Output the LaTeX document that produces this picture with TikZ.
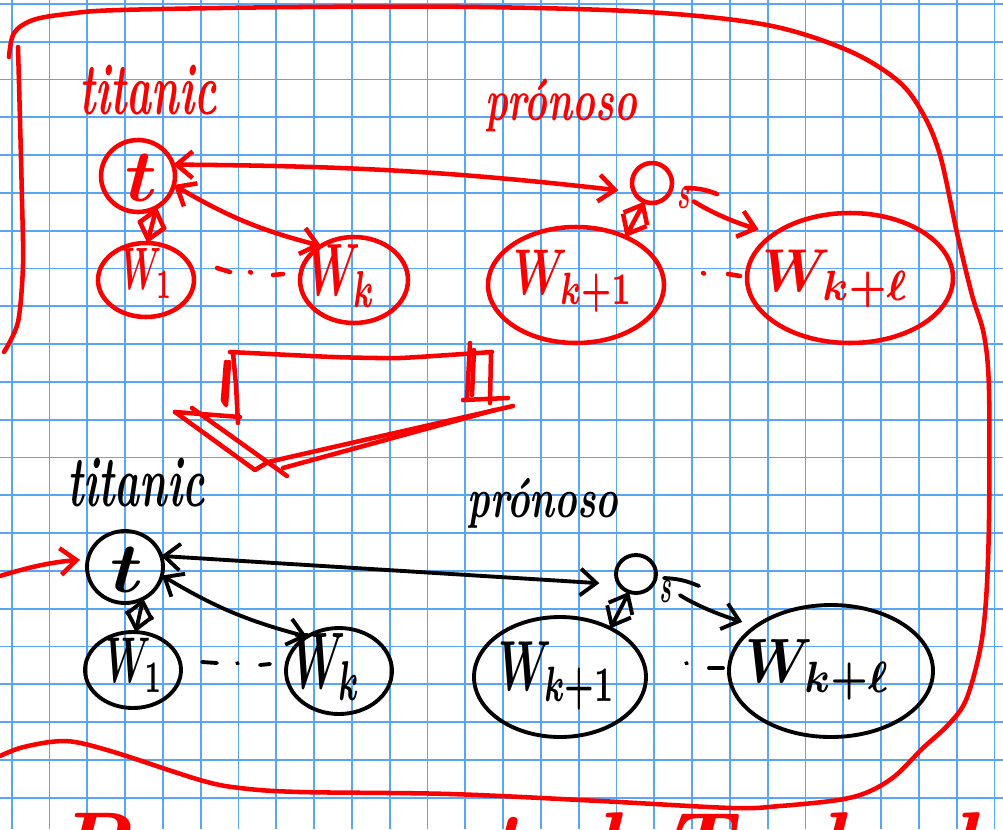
\documentclass[tikz,border=0pt]{standalone}
\usepackage{fontspec}
\usetikzlibrary{shapes.geometric, arrows.meta}
\definecolor{gridblue}{RGB}{88,166,246}
\definecolor{inkred}{RGB}{250,0,0}
\newcommand{\penword}[1]{{\bfseries\itshape\addfontfeature{FakeBold=3}#1}}
\tikzset{
  gridrule/.style={draw=gridblue, line width=1.4pt},
  redpen/.style={draw=inkred, line width=3.4pt, line cap=round, line join=round},
  blackpen/.style={draw=black, line width=2.9pt, line cap=round, line join=round},
  var/.style={ellipse, inner sep=0pt, outer sep=0pt},
  lab/.style={inner sep=0pt, outer sep=0pt},
  barb/.style={arrows={-Straight Barb[length=12pt, width=20pt]}},
  bothbarb/.style={arrows={Straight Barb[length=12pt, width=20pt]-Straight Barb[length=12pt, width=20pt]}},
}
\begin{document}
\begin{tikzpicture}[x=0.75pt, y=-0.75pt]
\useasboundingbox (0,0) rectangle (1003,829);
\fill[white] (0,0) rectangle (1003,829);

% squared paper
\foreach \k in {0,...,26} \draw[gridrule] ({11.7+37.8*\k},0) -- ({11.7+37.8*\k},829);
\foreach \k in {0,...,21} \draw[gridrule] (0,{3.9+37.8*\k}) -- (1003,{3.9+37.8*\k});

% red frame around both models
\draw[redpen] plot[smooth, tension=0.55] coordinates {(9,57) (14,33) (33,20) (67,14) (120,10) (300,7) (480,7) (647,12) (767,25) (847,50) (897,80) (922,112) (940,155) (957,233) (972,295) (984,335) (989,390) (989,520) (986,600) (980,650) (966,700) (948,725) (923,748) (895,776) (868,792) (838,800) (780,806) (732,808) (600,801) (450,794) (300,792) (240,788) (200,780) (117,753) (75,742) (50,742) (20,748) (0,756)};
\draw[redpen] plot[smooth] coordinates {(18,47) (20,120) (22,200) (23,265) (18,322) (4,352)};

% ---------------- upper (red) model ----------------
\node[lab, inkred] (titU) at (148,90) {\resizebox*{102.75pt}{37.5pt}{\penword{titanic}}};
\node[lab, inkred] (parU) at (561,106) {\resizebox*{114pt}{39.75pt}{\penword{prónoso}}};

\node[var, redpen, minimum width=55.5pt, minimum height=54pt] (tU) at (138,176) {};
\node[var, redpen, minimum width=72pt, minimum height=55.5pt] (W1U) at (146,280) {};
\node[var, redpen, minimum width=81pt, minimum height=64.5pt] (WkU) at (354,280) {};
\node[var, redpen, minimum width=132pt, minimum height=87pt] (Wk1U) at (576,285) {};
\node[var, redpen, minimum width=154.5pt, minimum height=97.5pt] (WklU) at (850,278) {};
\node[var, redpen, minimum width=30pt, minimum height=30pt] (sU) at (652,183) {};

\node[lab, inkred] (tUl) at (141,178) {\resizebox*{24pt}{35.25pt}{\boldmath$t$}};
\node[lab, inkred] (W1Ul) at (147,273) {\resizebox*{38.25pt}{37.5pt}{\boldmath$W_{1}$}};
\node[lab, inkred] (WkUl) at (342,276) {\resizebox*{51.75pt}{46.5pt}{\boldmath$W_{k}$}};
\node[lab, inkred] (Wk1Ul) at (573,281) {\resizebox*{90pt}{46.5pt}{\boldmath$W_{k+1}$}};
\node[lab, inkred] (WklUl) at (836,279) {\resizebox*{110.25pt}{43.5pt}{\boldmath$W_{k+\ell}$}};
\node[lab, inkred] (sUl) at (684,198) {\resizebox*{9.75pt}{15.75pt}{\boldmath$s$}};

\draw[redpen, bothbarb, shorten >=12pt] (tU.18) to[bend left=3] (sU.207);
\draw[redpen, bothbarb] (tU.346) to[bend right=8] (WkU.134);
\draw[redpen, bothbarb] (tU.301) -- (W1U.88);
\draw[redpen, bothbarb] (sU.248) -- (Wk1U.44);
\draw[redpen, barb, shorten <=20pt, shorten >=12pt] (sU.348) to[bend right=8] (WklU.150);
\draw[redpen] (686,188) to[bend left=10] (717,194);

% ellipsis marks
\draw[redpen] (217,268) -- (230,272);
\draw[redpen] (250,272) -- (251,272.5);
\draw[redpen] (273,275) -- (283,274);
\draw[redpen] (703,273) -- (704,273.5);
\draw[redpen] (728,274) -- (740,276);

% ---------------- turning arrow ----------------
\draw[redpen] plot[smooth, tension=0.3] coordinates {(230,352) (333,357) (400,358) (492,352)};
\draw[redpen] (233,353) -- (236,385) -- (238,423);
\draw[redpen] (226,362) -- (223,400) -- (226,405) -- (229,362);
\draw[redpen] (175,412) -- (240,417);
\draw[redpen] (470,343) -- (467,400);
\draw[redpen] (474,350) -- (472,395);
\draw[redpen] (491,352) -- (490,403);
\draw[redpen] (463,400) -- (508,398);
\draw[redpen] (175,412) -- (255,470) -- (268,462) -- (513,406);
\draw[redpen] (192,408) -- (287,476);
\draw[redpen] (283,468) -- (495,410);

% ---------------- lower (black) model ----------------
\node[lab] (titL) at (136,483) {\resizebox*{102.75pt}{36.75pt}{\penword{titanic}}};
\node[lab] (parL) at (543,503) {\resizebox*{113.25pt}{37.5pt}{\penword{prónoso}}};

\node[var, blackpen, minimum width=57pt, minimum height=54pt] (tL) at (125,567) {};
\node[var, blackpen, minimum width=72pt, minimum height=57pt] (W1L) at (133,670) {};
\node[var, blackpen, minimum width=79.5pt, minimum height=64.5pt] (WkL) at (339,671) {};
\node[var, blackpen, minimum width=129pt, minimum height=90pt] (Wk1L) at (560,677) {};
\node[var, blackpen, minimum width=153pt, minimum height=99pt] (WklL) at (831,671) {};
\node[var, blackpen, minimum width=30pt, minimum height=28.5pt] (sL) at (636,574) {};

\node[lab] (tLl) at (127,570) {\resizebox*{24.75pt}{33.75pt}{\boldmath$t$}};
\node[lab] (W1Ll) at (134,665) {\resizebox*{43.5pt}{40.5pt}{\boldmath$W_{1}$}};
\node[lab] (WkLl) at (327,667) {\resizebox*{51.75pt}{50.25pt}{\boldmath$W_{k}$}};
\node[lab] (Wk1Ll) at (557,676) {\resizebox*{88.5pt}{51pt}{\boldmath$W_{k+1}$}};
\node[lab] (WklLl) at (818,670) {\resizebox*{108.75pt}{45pt}{\boldmath$W_{k+\ell}$}};
\node[lab] (sLl) at (666,591) {\resizebox*{9pt}{16.5pt}{\boldmath$s$}};

\draw[blackpen, bothbarb, shorten >=15pt] (tL.17) -- (sL.212);
\draw[blackpen, bothbarb] (tL.347) to[bend right=8] (WkL.133);
\draw[blackpen, bothbarb] (tL.300) -- (W1L.86);
\draw[blackpen, bothbarb] (sL.249) -- (Wk1L.44);
\draw[blackpen, barb, shorten <=22pt, shorten >=11pt] (sL.345) to[bend right=8] (WklL.149);
\draw[blackpen] (664,578) to[bend left=10] (699,586);

\draw[blackpen] (202,662) -- (217,663);
\draw[blackpen] (237,663) -- (238,663.5);
\draw[blackpen] (260,665) -- (270,664);
\draw[blackpen] (686,663) -- (687,663.5);
\draw[blackpen] (709,668) -- (723,668);

% red arrow pointing at the lower t
\coordinate (inflow) at (0,576);
\draw[redpen, barb, shorten >=6pt] (inflow) to[bend left=6] (tL.168);

% next line of notes, running off the page
\node[lab, anchor=north west, inkred] (nextline) at (55,812) {\resizebox{707pt}{48pt}{\penword{Reconnected To look}}};
\end{tikzpicture}
\end{document}
